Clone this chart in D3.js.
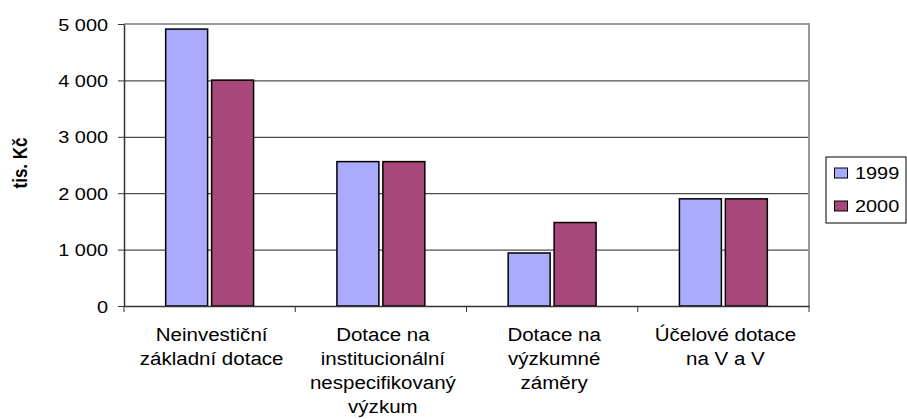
<!DOCTYPE html>
<html><head><meta charset="utf-8">
<script src="https://cdn.jsdelivr.net/npm/d3@7"></script>
<style>
html,body{margin:0;padding:0;background:#fff;}
svg text{font-family:"Liberation Sans",Arial,sans-serif;fill:#000;}
</style></head>
<body><svg id="c" width="907" height="419"></svg>
<script>
const categories = [
  ["Neinvestiční", "základní dotace"],
  ["Dotace na", "institucionální", "nespecifikovaný", "výzkum"],
  ["Dotace na", "výzkumné", "záměry"],
  ["Účelové dotace", "na V a V"]
];
const seriesNames = ["1999", "2000"];
const values1999 = [4910, 2560, 940, 1900];
const values2000 = [4005, 2560, 1480, 1900];
const yTicks = [0, 1000, 2000, 3000, 4000, 5000];
const yLabel = "tis. Kč";
const colors = ["#aaabff", "#a8487a"];

const svg = d3.select("#c");
const L = 124, R = 809, T = 24, B = 306;
const sx = 1.17;

const x = d3.scaleBand().domain(d3.range(categories.length)).range([L, R]).padding(0);
const y = d3.scaleLinear().domain([0, 5000]).range([B, T]);
const fmt = d3.formatLocale({thousands: "\u00a0", grouping: [3], decimal: ",", currency: ["", ""]}).format(",");

// gridlines
svg.append("g").selectAll("line").data(yTicks.filter(d => d > 0 && d < 5000)).join("line")
  .attr("x1", L).attr("x2", R).attr("y1", d => y(d) + 0.5).attr("y2", d => y(d) + 0.5)
  .attr("stroke", "#222").attr("stroke-width", 1);
// top & right border
svg.append("line").attr("x1", L).attr("x2", R + 1).attr("y1", y(5000)).attr("y2", y(5000))
  .attr("stroke", "#9a9a9a").attr("stroke-width", 2);
svg.append("line").attr("x1", R).attr("x2", R).attr("y1", y(5000)).attr("y2", B)
  .attr("stroke", "#9a9a9a").attr("stroke-width", 2);

// bars
const bw = x.bandwidth() * 0.245, gap = 4;
const series = [values1999, values2000];
series.forEach((vals, si) => {
  svg.append("g").selectAll("rect").data(vals).join("rect")
    .attr("x", (d, i) => x(i) + x.bandwidth() / 2 - bw - gap / 2 + si * (bw + gap))
    .attr("y", d => y(d))
    .attr("width", bw)
    .attr("height", d => B - y(d))
    .attr("fill", colors[si])
    .attr("stroke", "#000").attr("stroke-width", 1.5);
});

// y axis
const ya = svg.append("g").attr("transform", `translate(${L},0)`)
  .call(d3.axisLeft(y).tickValues(yTicks).tickFormat(fmt).tickSize(6).tickPadding(0).tickSizeOuter(0));
ya.select(".domain").attr("stroke", "#333").attr("stroke-width", 1.5);
ya.selectAll(".tick line").attr("stroke", "#333");
ya.selectAll(".tick text").attr("x", 0).attr("dy", "0.36em")
  .attr("transform", `translate(-16,0) scale(${sx},1)`)
  .style("font-size", "17px").attr("fill", "#000");

// x axis
const xa = svg.append("g").attr("transform", `translate(0,${B})`)
  .call(d3.axisBottom(x).tickValues([]).tickSize(0).tickSizeOuter(0));
xa.select(".domain").attr("stroke", "#333").attr("stroke-width", 1.5);
svg.append("g").selectAll("line").data(d3.range(categories.length + 1)).join("line")
  .attr("x1", i => i < categories.length ? x(i) : R).attr("x2", i => i < categories.length ? x(i) : R)
  .attr("y1", B).attr("y2", B + 6).attr("stroke", "#333");

// category labels
const cl = svg.append("g").selectAll("g").data(categories).join("g")
  .attr("transform", (d, i) => `translate(${x(i) + x.bandwidth() / 2 + 2},0) scale(1.08,1)`);
cl.each(function (lines) {
  d3.select(this).selectAll("text").data(lines).join("text")
    .attr("x", 0).attr("y", (d, j) => 341 + j * 24)
    .attr("text-anchor", "middle").style("font-size", "19px").text(d => d);
});

// y label
svg.append("text").attr("transform", "translate(27,163) rotate(-90) scale(1,1.15)")
  .attr("text-anchor", "middle").style("font-size", "17px").style("font-weight", "bold")
  .text(yLabel);

// legend
const lg = svg.append("g");
lg.append("rect").attr("x", 826).attr("y", 157).attr("width", 80).attr("height", 66)
  .attr("fill", "#fff").attr("stroke", "#000").attr("stroke-width", 1);
seriesNames.forEach((s, i) => {
  const cy = 173 + i * 33;
  lg.append("rect").attr("x", 834.5).attr("y", cy - 5).attr("width", 13).attr("height", 10)
    .attr("fill", colors[i]).attr("stroke", "#000").attr("stroke-width", 1);
  lg.append("text").attr("transform", `translate(855,${cy}) scale(${sx},1)`).attr("dy", "0.36em")
    .style("font-size", "17px").text(s);
});
</script></body></html>
